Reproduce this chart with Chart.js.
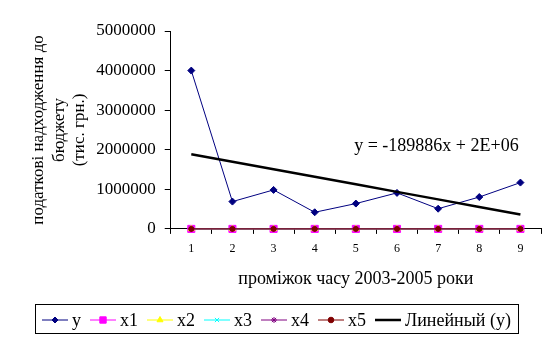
<!DOCTYPE html>
<html lang="uk">
<head>
<meta charset="UTF-8">
<title>Податкові надходження до бюджету</title>
<script src="https://cdn.jsdelivr.net/npm/chart.js"></script>
<style>
  body { margin: 0; background: #fff; }
  canvas { display: block; }
</style>
</head>
<body>
<canvas id="chart" width="557" height="343"></canvas>
<script>
  // періоди (1..9) за 2003-2005 роки
  const periods = ['1', '2', '3', '4', '5', '6', '7', '8', '9']
  const yValues = [4000000, 690000, 985000, 420000, 640000, 910000, 510000, 805000, 1170000]
  const x1Values = [0, 0, 0, 0, 0, 0, 0, 0, 0]
  const x2Values = [0, 0, 0, 0, 0, 0, 0, 0, 0]
  const x3Values = [0, 0, 0, 0, 0, 0, 0, 0, 0]
  const x4Values = [0, 0, 0, 0, 0, 0, 0, 0, 0]
  const x5Values = [0, 0, 0, 0, 0, 0, 0, 0, 0]
  const yTicks = [0, 1000000, 2000000, 3000000, 4000000, 5000000]
  const trendSlope = -189886
  const trendText = 'y = -189886x + 2E+06'

  // лінійний тренд для y: нахил з рівняння, зсув через середні значення
  const meanX = periods.reduce((s, p) => s + Number(p), 0) / periods.length
  const meanY = yValues.reduce((s, v) => s + v, 0) / yValues.length
  const trendIntercept = meanY - trendSlope * meanX
  const trendValues = periods.map(p => trendIntercept + trendSlope * Number(p))

  const serif = 'Liberation Serif'
  Chart.defaults.font.family = serif
  Chart.defaults.color = '#000'

  function series(label, data, color, style, radius, order, legendRadius) {
    return {
      label: label,
      data: data,
      borderColor: color,
      backgroundColor: color,
      borderWidth: 1,
      pointStyle: style,
      pointRadius: radius,
      pointBorderWidth: 1,
      pointHoverRadius: radius,
      tension: 0,
      clip: false,
      order: order,
      legendRadius: legendRadius
    }
  }

  const datasets = [
    series('y', yValues, '#000080', 'rectRot', 3.5, 2, 3),
    series('x1', x1Values, '#FF00FF', 'rect', 5, 7, 4.5),
    series('x2', x2Values, '#FFFF00', 'triangle', 3.5, 6, 3.5),
    series('x3', x3Values, '#00FFFF', 'crossRot', 3, 5, 3),
    series('x4', x4Values, '#800080', 'star', 3, 4, 3),
    series('x5', x5Values, '#800000', 'circle', 2.5, 3, 2.8),
    {
      label: 'Линейный (y)',
      data: trendValues,
      borderColor: '#000',
      backgroundColor: '#000',
      borderWidth: 2.5,
      pointRadius: 0,
      pointHoverRadius: 0,
      tension: 0,
      clip: false,
      order: 1,
      legendRadius: 0
    }
  ]

  // підпис рівняння тренду
  const trendLabel = {
    id: 'trendLabel',
    afterDatasetsDraw(chart) {
      const ctx = chart.ctx
      const xs = chart.scales.x, ys = chart.scales.y
      ctx.save()
      ctx.font = '18px ' + serif
      ctx.fillStyle = '#000'
      ctx.textAlign = 'left'
      ctx.textBaseline = 'middle'
      ctx.fillText(trendText, xs.getPixelForValue(3.96), ys.getPixelForValue(2080000))
      ctx.restore()
    }
  }

  // легенда у рамці: лінія з маркером + підпис
  const boxLegend = {
    id: 'boxLegend',
    afterDraw(chart) {
      const ctx = chart.ctx
      const left = 35, top = 304, width = 483, height = 29
      const cy = 320
      ctx.save()
      ctx.strokeStyle = '#000'
      ctx.lineWidth = 1
      ctx.strokeRect(left + 0.5, top + 0.5, width, height)
      ctx.font = '18px ' + serif
      ctx.textBaseline = 'middle'
      ctx.textAlign = 'left'
      let x = left + 7
      chart.data.datasets.forEach(ds => {
        ctx.strokeStyle = ds.borderColor
        ctx.lineWidth = ds.borderWidth
        ctx.beginPath()
        ctx.moveTo(x, cy)
        ctx.lineTo(x + 26, cy)
        ctx.stroke()
        if (ds.legendRadius > 0) {
          ctx.fillStyle = ds.backgroundColor
          ctx.lineWidth = 1
          Chart.helpers.drawPoint(ctx, { pointStyle: ds.pointStyle, radius: ds.legendRadius, borderWidth: 1, rotation: 0 }, x + 13, cy)
        }
        ctx.fillStyle = '#000'
        ctx.fillText(ds.label, x + 30, cy + 1)
        x += 30 + ctx.measureText(ds.label).width + 9
      })
      ctx.restore()
    }
  }

  new Chart(document.getElementById('chart'), {
    type: 'line',
    data: { labels: periods, datasets: datasets },
    options: {
      responsive: false,
      animation: false,
      devicePixelRatio: 1,
      layout: { padding: { left: 28, right: 16, top: 31, bottom: 53 } },
      plugins: {
        legend: { display: false },
        tooltip: { enabled: false }
      },
      scales: {
        x: {
          type: 'category',
          offset: true,
          grid: { offset: true, drawOnChartArea: false, drawTicks: true, tickLength: 5, color: '#000' },
          border: { display: true, color: '#000', width: 1 },
          ticks: { font: { size: 12 }, padding: 8, maxRotation: 0 },
          title: {
            display: true,
            text: 'проміжок часу 2003-2005 роки',
            font: { size: 18, lineHeight: 1.15 },
            padding: { top: 5, bottom: 0 }
          }
        },
        y: {
          min: 0,
          max: 5000000,
          afterBuildTicks(scale) { scale.ticks = yTicks.map(v => ({ value: v })) },
          grid: { drawOnChartArea: false, drawTicks: true, tickLength: 6, color: '#000' },
          border: { display: true, color: '#000', width: 1 },
          ticks: { font: { size: 17 }, padding: 9, callback: v => String(v) },
          title: {
            display: true,
            text: ['податкові надходження до', 'бюджету', '(тис. грн.)'],
            font: { size: 17, lineHeight: 1.22 },
            padding: { top: 0, bottom: -3 }
          }
        }
      }
    },
    plugins: [trendLabel, boxLegend]
  })
</script>
</body>
</html>
